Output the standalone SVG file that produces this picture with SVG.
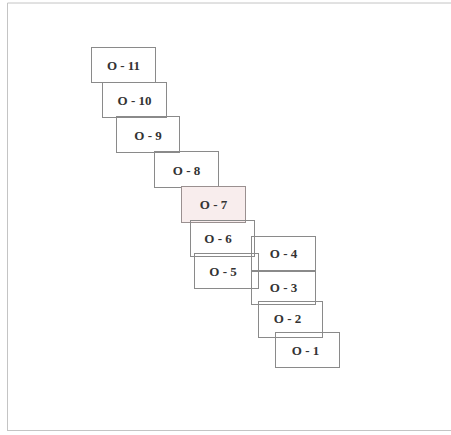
<svg xmlns="http://www.w3.org/2000/svg" width="451" height="435" viewBox="0 0 451 435">
<style>
.box{fill:none;stroke:#8a8a8a;stroke-width:1}
.hl{fill:#f8eded;stroke:#9a9090;stroke-width:1}
.lbl{font-family:"Liberation Serif","Times New Roman",serif;font-weight:bold;font-size:13px;fill:#333;text-anchor:middle}
.frame{stroke:#c4c4c4;stroke-width:1;fill:none}
</style>
<rect x="0" y="0" width="451" height="435" fill="#ffffff"/>
<g id="frame">
<line class="frame" x1="7.5" y1="3" x2="451" y2="3"/>
<line class="frame" x1="7.5" y1="3" x2="7.5" y2="431"/>
<line class="frame" x1="7.5" y1="430.5" x2="451" y2="430.5" stroke="#a8a8a8"/>
</g>
<g id="connectors"></g>
<g id="O-11"><rect class="box" x="91.5" y="47.5" width="64" height="35"/><text class="lbl" x="123.5" y="70">O - 11</text></g>
<g id="O-10"><rect class="box" x="102.5" y="82.5" width="64" height="35"/><text class="lbl" x="134.5" y="105">O - 10</text></g>
<g id="O-9"><rect class="box" x="116.5" y="116.5" width="63" height="36"/><text class="lbl" x="148" y="139.5">O - 9</text></g>
<g id="O-8"><rect class="box" x="154.5" y="151.5" width="64" height="36"/><text class="lbl" x="186.5" y="174.5">O - 8</text></g>
<g id="O-7"><rect class="hl" x="181.5" y="186.5" width="64" height="36"/><text class="lbl" x="213.5" y="209">O - 7</text></g>
<g id="O-6"><rect class="box" x="190.5" y="220.5" width="64" height="36"/><text class="lbl" x="218" y="243">O - 6</text></g>
<g id="O-5"><rect class="box" x="194.5" y="253.5" width="64" height="35"/><text class="lbl" x="223" y="276">O - 5</text></g>
<g id="O-4"><rect class="box" x="251.5" y="236.5" width="64" height="34"/><text class="lbl" x="283.5" y="258">O - 4</text></g>
<g id="O-3"><rect class="box" x="251.5" y="271.5" width="64" height="33"/><text class="lbl" x="283.5" y="292">O - 3</text></g>
<g id="O-2"><rect class="box" x="258.5" y="301.5" width="64" height="36"/><text class="lbl" x="287.5" y="323">O - 2</text></g>
<g id="O-1"><rect class="box" x="275.5" y="332.5" width="64" height="35"/><text class="lbl" x="305.5" y="355">O - 1</text></g>
</svg>
